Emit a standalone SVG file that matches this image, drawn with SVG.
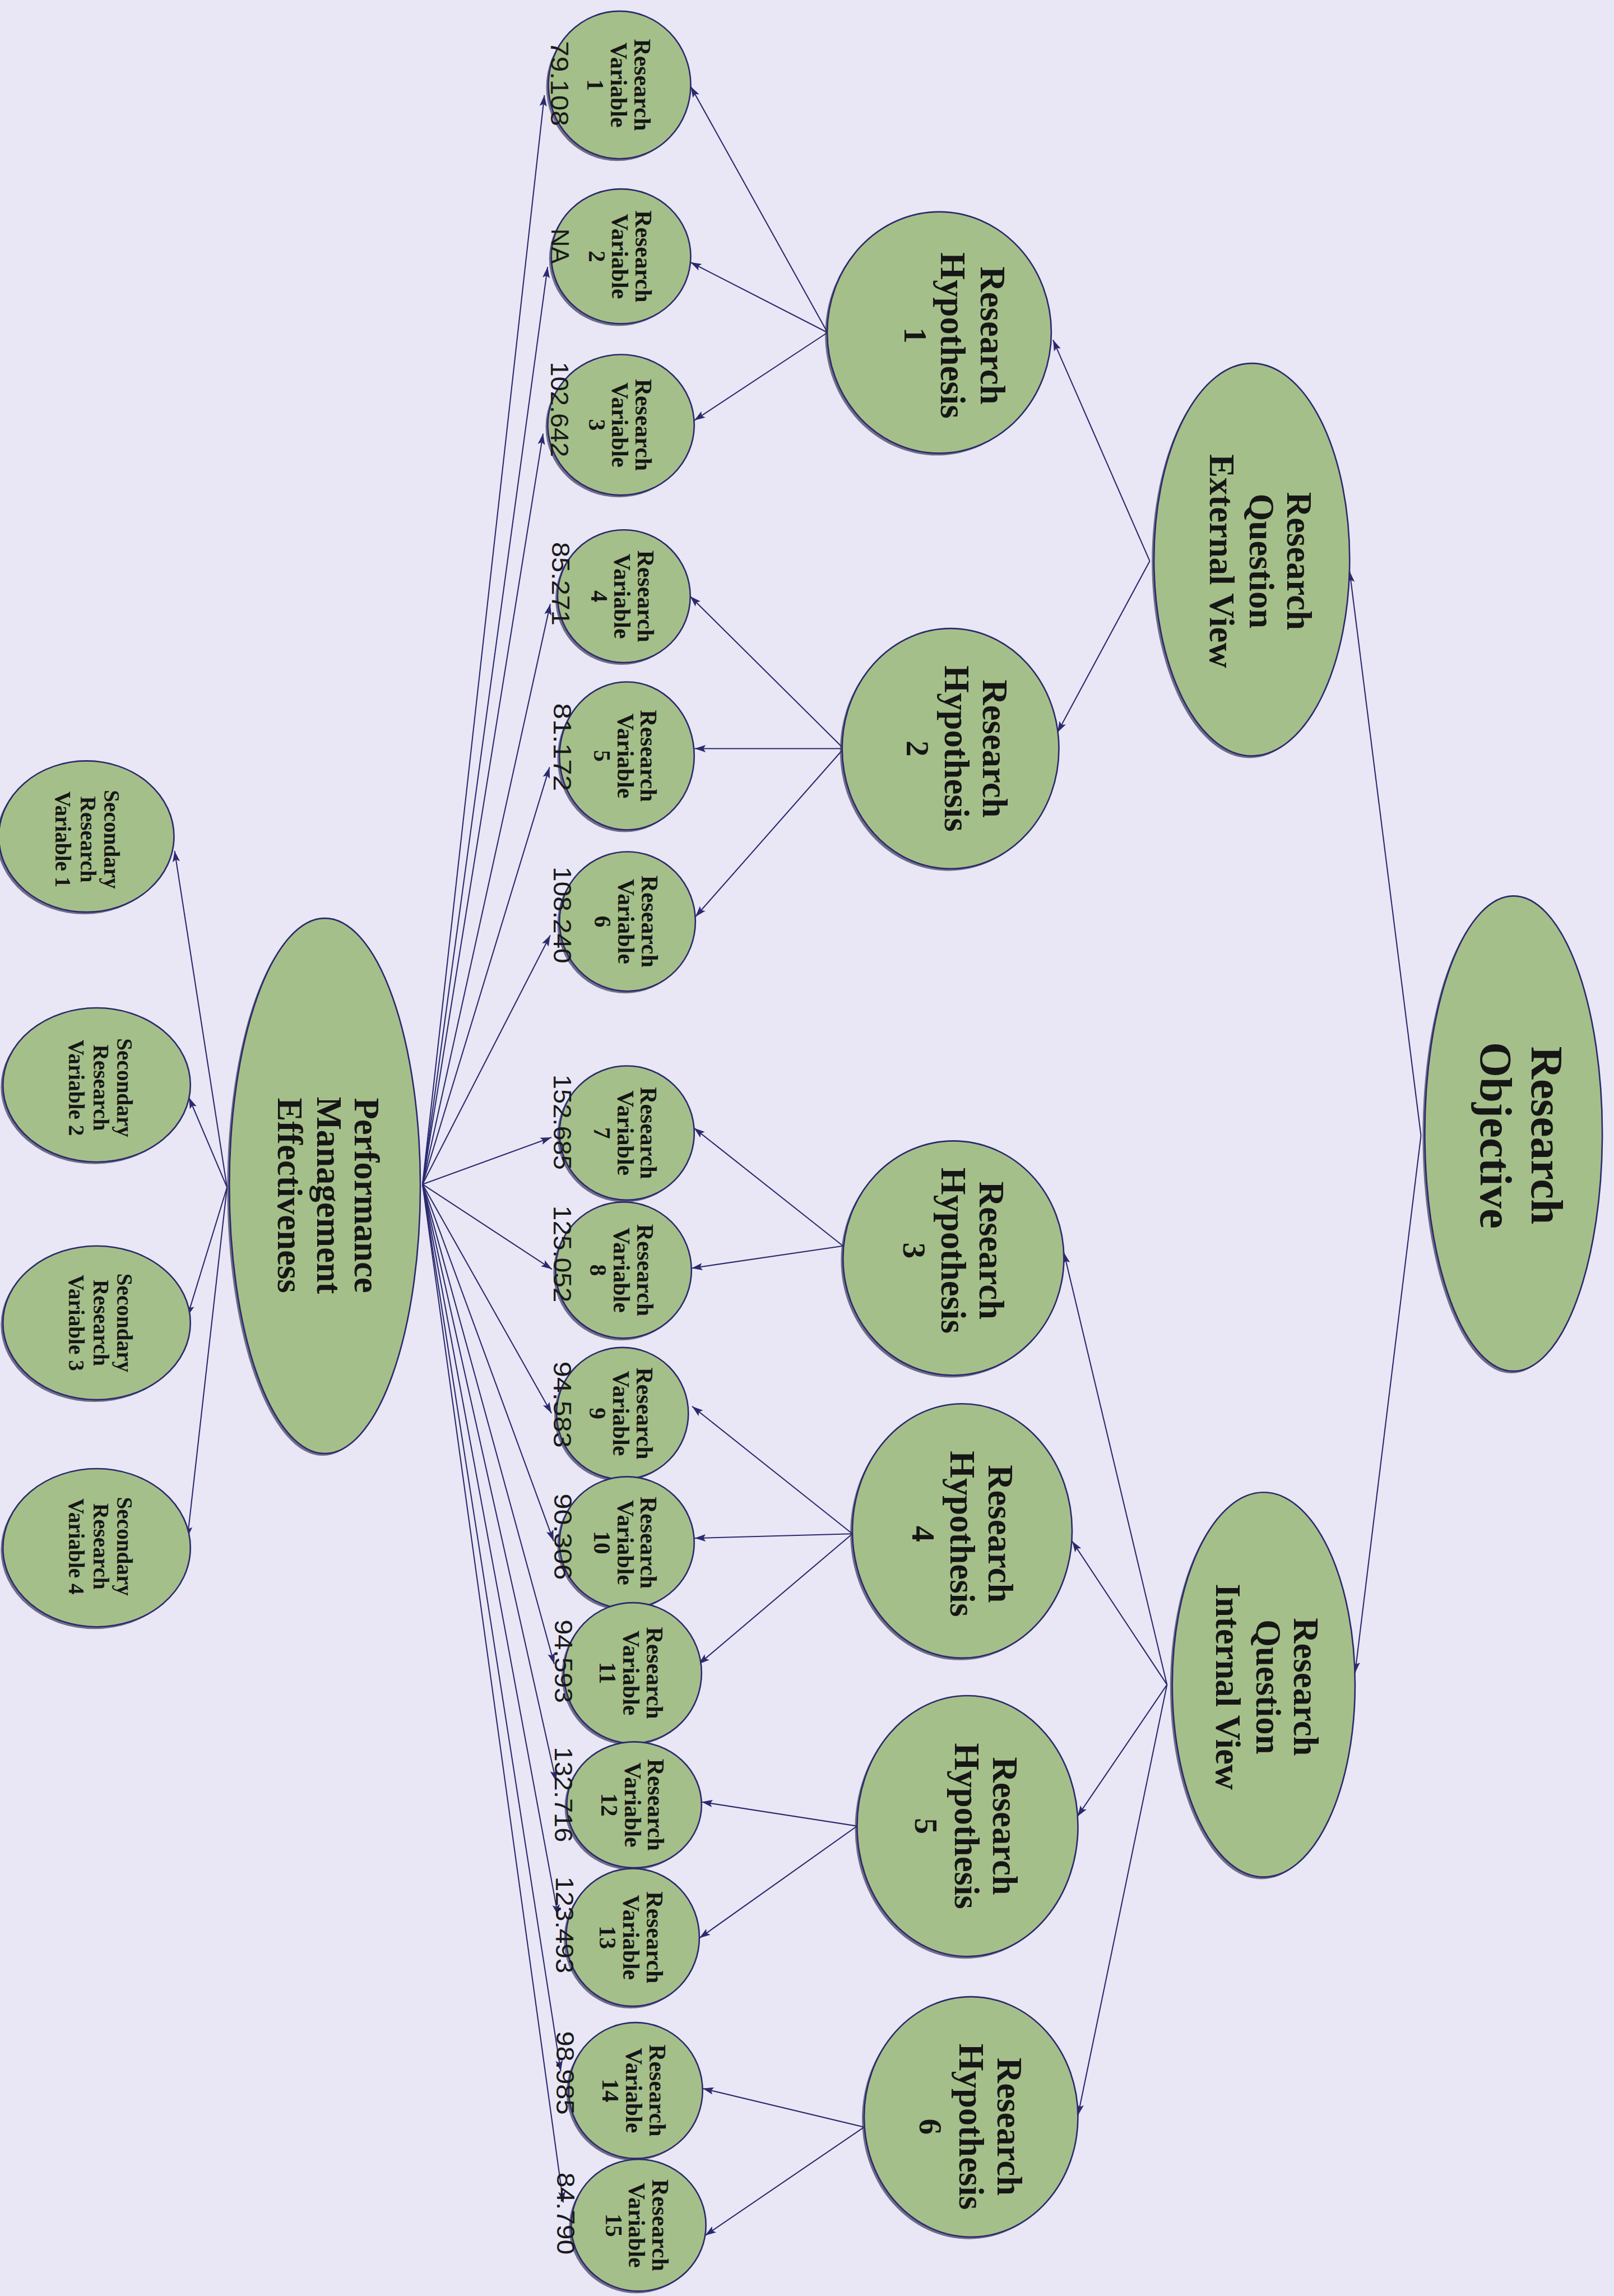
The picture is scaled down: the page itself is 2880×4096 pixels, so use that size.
<svg xmlns="http://www.w3.org/2000/svg" width="2880" height="4096" viewBox="0 0 2880 4096">
<style>
.bg{fill:#e9e7f6}
.sh{fill:#3c3a58;opacity:.7}
.fg{fill:#a5bf8a;stroke:#2b2a6e;stroke-width:1}
.lbl{font-family:'Liberation Serif','Times New Roman',serif;font-weight:bold;fill:#161616;text-anchor:middle}
.num{font-family:'Liberation Sans',Arial,sans-serif;fill:#1a1a1a;text-anchor:middle;font-size:17px}
.conn line{stroke:#2b2a6e;stroke-width:.8;fill:none}
.conn line.a{marker-end:url(#ah)}
</style>
<defs>
<marker id="ah" markerUnits="userSpaceOnUse" markerWidth="9" markerHeight="6" refX="7.5" refY="2.5" orient="auto" overflow="visible">
<path d="M0,0 L7.5,2.5 L0,5 L1.5,2.5 z" fill="#2b2a6e"/>
</marker>
</defs>
<rect class="bg" x="0" y="0" width="2880" height="4096"/>
<g transform="scale(2.61343)">
<g id="connectors" class="conn">
<line class="a" x1="970.2" y1="775.2" x2="921.5" y2="390"/>
<line class="a" x1="970.2" y1="775.2" x2="925.2" y2="1142"/>
<line class="a" x1="785" y1="383" x2="719" y2="232"/>
<line class="a" x1="785" y1="383" x2="722" y2="500"/>
<line class="a" x1="796.8" y1="1150" x2="726.4" y2="855"/>
<line class="a" x1="796.8" y1="1150" x2="732" y2="1052"/>
<line class="a" x1="796.8" y1="1150" x2="735.6" y2="1240"/>
<line class="a" x1="796.8" y1="1150" x2="736" y2="1444"/>
<line class="a" x1="565" y1="227" x2="471.6" y2="59"/>
<line class="a" x1="565" y1="227" x2="471.4" y2="179"/>
<line class="a" x1="565" y1="227" x2="474" y2="287"/>
<line class="a" x1="576" y1="511" x2="471.2" y2="407"/>
<line class="a" x1="576" y1="511" x2="474.3" y2="511"/>
<line class="a" x1="576" y1="511" x2="474.8" y2="625.8"/>
<line class="a" x1="575.6" y1="850.5" x2="473.8" y2="770"/>
<line class="a" x1="575.6" y1="850.5" x2="472.1" y2="865.7"/>
<line class="a" x1="582" y1="1047" x2="472.6" y2="960"/>
<line class="a" x1="582" y1="1047" x2="474.3" y2="1050"/>
<line class="a" x1="582" y1="1047" x2="477" y2="1136"/>
<line class="a" x1="585.2" y1="1246.5" x2="479" y2="1230"/>
<line class="a" x1="585.2" y1="1246.5" x2="477.5" y2="1323"/>
<line class="a" x1="590" y1="1452" x2="479.7" y2="1425.6"/>
<line class="a" x1="590" y1="1452" x2="481.4" y2="1526"/>
<line class="a" x1="288.5" y1="808.4" x2="371.7" y2="65"/>
<line class="a" x1="288.5" y1="808.4" x2="373.9" y2="182.2"/>
<line class="a" x1="288.5" y1="808.4" x2="370.8" y2="296"/>
<line class="a" x1="288.5" y1="808.4" x2="375.7" y2="412.3"/>
<line class="a" x1="288.5" y1="808.4" x2="375.2" y2="523.7"/>
<line class="a" x1="288.5" y1="808.4" x2="375.7" y2="638.4"/>
<line class="a" x1="288.5" y1="808.4" x2="376.5" y2="776.4"/>
<line class="a" x1="288.5" y1="808.4" x2="376.9" y2="866.4"/>
<line class="a" x1="288.5" y1="808.4" x2="376.6" y2="964.7"/>
<line class="a" x1="288.5" y1="808.4" x2="378" y2="1052"/>
<line class="a" x1="288.5" y1="808.4" x2="378.4" y2="1135.9"/>
<line class="a" x1="288.5" y1="808.4" x2="379.7" y2="1216"/>
<line class="a" x1="288.5" y1="808.4" x2="381" y2="1307.6"/>
<line class="a" x1="288.5" y1="808.4" x2="382.9" y2="1414"/>
<line class="a" x1="288.5" y1="808.4" x2="384.6" y2="1503.5"/>
<line class="a" x1="155" y1="810.5" x2="119.2" y2="580.8"/>
<line class="a" x1="155" y1="810.5" x2="129" y2="749.2"/>
<line class="a" x1="155" y1="810.5" x2="128" y2="898.5"/>
<line class="a" x1="155" y1="810.5" x2="128" y2="1049.7"/>
</g>

<g id="research-objective">
<ellipse class="sh" cx="1031.9" cy="775.3" rx="60.6" ry="162.2"/>
<ellipse class="fg" cx="1033.4" cy="773.8" rx="60.6" ry="162.2"/>
<text class="lbl" font-size="31" transform="translate(0,775) rotate(90)"><tspan x="0" y="-1045.6">Research</tspan><tspan x="0" y="-1010.8">Objective</tspan></text>
</g>

<g id="rq-external">
<ellipse class="sh" cx="853.2" cy="383.5" rx="66.8" ry="134"/>
<ellipse class="fg" cx="854.7" cy="382" rx="66.8" ry="134"/>
<text class="lbl" font-size="24" transform="translate(0,383) rotate(90)"><tspan x="0" y="-879">Research</tspan><tspan x="0" y="-853.3">Question</tspan><tspan x="0" y="-826.1">External View</tspan></text>
</g>

<g id="rq-internal">
<ellipse class="sh" cx="861.3" cy="1151.5" rx="62.4" ry="131.3"/>
<ellipse class="fg" cx="862.8" cy="1150" rx="62.4" ry="131.3"/>
<text class="lbl" font-size="24" transform="translate(0,1151.5) rotate(90)"><tspan x="0" y="-883.4">Research</tspan><tspan x="0" y="-857.7">Question</tspan><tspan x="0" y="-830.5">Internal View</tspan></text>
</g>

<g id="rh1">
<ellipse class="sh" cx="639.8" cy="228.5" rx="76.5" ry="82.4"/>
<ellipse class="fg" cx="641.3" cy="227" rx="76.5" ry="82.4"/>
<text class="lbl" font-size="24" transform="translate(0,229) rotate(90)"><tspan x="0" y="-669.5">Research</tspan><tspan x="0" y="-642.4">Hypothesis</tspan><tspan x="0" y="-617.5" font-size="22">1</tspan></text>
</g>
<g id="rh2">
<ellipse class="sh" cx="647.5" cy="512.5" rx="74" ry="82"/>
<ellipse class="fg" cx="649" cy="511" rx="74" ry="82"/>
<text class="lbl" font-size="24" transform="translate(0,511) rotate(90)"><tspan x="0" y="-671">Research</tspan><tspan x="0" y="-645">Hypothesis</tspan><tspan x="0" y="-619" font-size="22">2</tspan></text>
</g>
<g id="rh3">
<ellipse class="sh" cx="649.5" cy="860.3" rx="75.4" ry="80"/>
<ellipse class="fg" cx="651" cy="858.8" rx="75.4" ry="80"/>
<text class="lbl" font-size="24" transform="translate(0,853.6) rotate(90)"><tspan x="0" y="-669">Research</tspan><tspan x="0" y="-643">Hypothesis</tspan><tspan x="0" y="-617" font-size="22">3</tspan></text>
</g>
<g id="rh4">
<ellipse class="sh" cx="655.5" cy="1046.5" rx="75" ry="86.8"/>
<ellipse class="fg" cx="657" cy="1045" rx="75" ry="86.8"/>
<text class="lbl" font-size="24" transform="translate(0,1047) rotate(90)"><tspan x="0" y="-675">Research</tspan><tspan x="0" y="-649">Hypothesis</tspan><tspan x="0" y="-623" font-size="22">4</tspan></text>
</g>
<g id="rh5">
<ellipse class="sh" cx="659.1" cy="1248" rx="75.4" ry="89"/>
<ellipse class="fg" cx="660.6" cy="1246.5" rx="75.4" ry="89"/>
<text class="lbl" font-size="24" transform="translate(0,1246.5) rotate(90)"><tspan x="0" y="-678">Research</tspan><tspan x="0" y="-652">Hypothesis</tspan><tspan x="0" y="-625" font-size="22">5</tspan></text>
</g>
<g id="rh6">
<ellipse class="sh" cx="661.5" cy="1446.5" rx="73" ry="82"/>
<ellipse class="fg" cx="663" cy="1445" rx="73" ry="82"/>
<text class="lbl" font-size="24" transform="translate(0,1451.7) rotate(90)"><tspan x="0" y="-681">Research</tspan><tspan x="0" y="-655">Hypothesis</tspan><tspan x="0" y="-628" font-size="22">6</tspan></text>
</g>

<g id="rv1"><ellipse class="sh" cx="421.5" cy="59.5" rx="48.6" ry="50.4"/><ellipse class="fg" cx="423" cy="58" rx="48.6" ry="50.4"/>
<text class="lbl" font-size="16" transform="translate(0,58) rotate(90)"><tspan x="0" y="-433">Research</tspan><tspan x="0" y="-417">Variable</tspan><tspan x="0" y="-401">1</tspan></text>
<text class="num" textLength="58" lengthAdjust="spacingAndGlyphs" transform="translate(376,57) rotate(90)" x="0" y="0">79.108</text></g>
<g id="rv2"><ellipse class="sh" cx="422.5" cy="176.5" rx="47.6" ry="46"/><ellipse class="fg" cx="424" cy="175" rx="47.6" ry="46"/>
<text class="lbl" font-size="16" transform="translate(0,175) rotate(90)"><tspan x="0" y="-434">Research</tspan><tspan x="0" y="-418">Variable</tspan><tspan x="0" y="-402">2</tspan></text>
<text class="num" textLength="24" lengthAdjust="spacingAndGlyphs" transform="translate(376.5,168) rotate(90)" x="0" y="0">NA</text></g>
<g id="rv3"><ellipse class="sh" cx="422.5" cy="291.5" rx="50" ry="48"/><ellipse class="fg" cx="424" cy="290" rx="50" ry="48"/>
<text class="lbl" font-size="16" transform="translate(0,290) rotate(90)"><tspan x="0" y="-434">Research</tspan><tspan x="0" y="-418">Variable</tspan><tspan x="0" y="-402">3</tspan></text>
<text class="num" textLength="65" lengthAdjust="spacingAndGlyphs" transform="translate(376,279.5) rotate(90)" x="0" y="0">102.642</text></g>
<g id="rv4"><ellipse class="sh" cx="424.5" cy="408.5" rx="45.3" ry="45.3"/><ellipse class="fg" cx="426" cy="407" rx="45.3" ry="45.3"/>
<text class="lbl" font-size="16" transform="translate(0,407) rotate(90)"><tspan x="0" y="-435.5">Research</tspan><tspan x="0" y="-419.5">Variable</tspan><tspan x="0" y="-403.5">4</tspan></text>
<text class="num" textLength="57" lengthAdjust="spacingAndGlyphs" transform="translate(377,398.5) rotate(90)" x="0" y="0">85.271</text></g>
<g id="rv5"><ellipse class="sh" cx="426.5" cy="517.5" rx="46" ry="50.5"/><ellipse class="fg" cx="428" cy="516" rx="46" ry="50.5"/>
<text class="lbl" font-size="16" transform="translate(0,516) rotate(90)"><tspan x="0" y="-437.5">Research</tspan><tspan x="0" y="-421.5">Variable</tspan><tspan x="0" y="-405.5">5</tspan></text>
<text class="num" textLength="60" lengthAdjust="spacingAndGlyphs" transform="translate(378,510) rotate(90)" x="0" y="0">81.172</text></g>
<g id="rv6"><ellipse class="sh" cx="426.9" cy="630.5" rx="46.4" ry="47.6"/><ellipse class="fg" cx="428.4" cy="629" rx="46.4" ry="47.6"/>
<text class="lbl" font-size="16" transform="translate(0,629) rotate(90)"><tspan x="0" y="-438">Research</tspan><tspan x="0" y="-422">Variable</tspan><tspan x="0" y="-406">6</tspan></text>
<text class="num" textLength="66" lengthAdjust="spacingAndGlyphs" transform="translate(378,624.6) rotate(90)" x="0" y="0">108.240</text></g>
<g id="rv7"><ellipse class="sh" cx="426.5" cy="774.9" rx="46" ry="45.8"/><ellipse class="fg" cx="428" cy="773.4" rx="46" ry="45.8"/>
<text class="lbl" font-size="16" transform="translate(0,773.4) rotate(90)"><tspan x="0" y="-437.5">Research</tspan><tspan x="0" y="-421.5">Variable</tspan><tspan x="0" y="-405.5">7</tspan></text>
<text class="num" textLength="65" lengthAdjust="spacingAndGlyphs" transform="translate(378,766) rotate(90)" x="0" y="0">152.685</text></g>
<g id="rv8"><ellipse class="sh" cx="424.2" cy="868.5" rx="46.4" ry="46.5"/><ellipse class="fg" cx="425.7" cy="867" rx="46.4" ry="46.5"/>
<text class="lbl" font-size="16" transform="translate(0,867) rotate(90)"><tspan x="0" y="-435">Research</tspan><tspan x="0" y="-419">Variable</tspan><tspan x="0" y="-403">8</tspan></text>
<text class="num" textLength="66" lengthAdjust="spacingAndGlyphs" transform="translate(378,856) rotate(90)" x="0" y="0">125.052</text></g>
<g id="rv9"><ellipse class="sh" cx="423.5" cy="966.3" rx="45" ry="45"/><ellipse class="fg" cx="425" cy="964.8" rx="45" ry="45"/>
<text class="lbl" font-size="16" transform="translate(0,964.8) rotate(90)"><tspan x="0" y="-434.5">Research</tspan><tspan x="0" y="-418.5">Variable</tspan><tspan x="0" y="-402.5">9</tspan></text>
<text class="num" textLength="59" lengthAdjust="spacingAndGlyphs" transform="translate(378,958.8) rotate(90)" x="0" y="0">94.583</text></g>
<g id="rv10"><ellipse class="sh" cx="426.5" cy="1054.5" rx="46" ry="45"/><ellipse class="fg" cx="428" cy="1053" rx="46" ry="45"/>
<text class="lbl" font-size="16" transform="translate(0,1053) rotate(90)"><tspan x="0" y="-437.5">Research</tspan><tspan x="0" y="-421.5">Variable</tspan><tspan x="0" y="-405.5">10</tspan></text>
<text class="num" textLength="59" lengthAdjust="spacingAndGlyphs" transform="translate(378.5,1049) rotate(90)" x="0" y="0">90.306</text></g>
<g id="rv11"><ellipse class="sh" cx="430.5" cy="1143.5" rx="47" ry="48"/><ellipse class="fg" cx="432" cy="1142" rx="47" ry="48"/>
<text class="lbl" font-size="16" transform="translate(0,1142) rotate(90)"><tspan x="0" y="-441.5">Research</tspan><tspan x="0" y="-425.5">Variable</tspan><tspan x="0" y="-409.5">11</tspan></text>
<text class="num" textLength="57" lengthAdjust="spacingAndGlyphs" transform="translate(379,1134) rotate(90)" x="0" y="0">94.593</text></g>
<g id="rv12"><ellipse class="sh" cx="431.5" cy="1233.5" rx="46" ry="43"/><ellipse class="fg" cx="433" cy="1232" rx="46" ry="43"/>
<text class="lbl" font-size="16" transform="translate(0,1232) rotate(90)"><tspan x="0" y="-442.5">Research</tspan><tspan x="0" y="-426.5">Variable</tspan><tspan x="0" y="-410.5">12</tspan></text>
<text class="num" textLength="65" lengthAdjust="spacingAndGlyphs" transform="translate(379,1225) rotate(90)" x="0" y="0">132.716</text></g>
<g id="rv13"><ellipse class="sh" cx="430.5" cy="1324" rx="45.5" ry="47"/><ellipse class="fg" cx="432" cy="1322.5" rx="45.5" ry="47"/>
<text class="lbl" font-size="16" transform="translate(0,1322.5) rotate(90)"><tspan x="0" y="-441.5">Research</tspan><tspan x="0" y="-425.5">Variable</tspan><tspan x="0" y="-409.5">13</tspan></text>
<text class="num" textLength="66" lengthAdjust="spacingAndGlyphs" transform="translate(379.5,1314) rotate(90)" x="0" y="0">123.493</text></g>
<g id="rv14"><ellipse class="sh" cx="432.5" cy="1428.5" rx="45.7" ry="46.4"/><ellipse class="fg" cx="434" cy="1427" rx="45.7" ry="46.4"/>
<text class="lbl" font-size="16" transform="translate(0,1427) rotate(90)"><tspan x="0" y="-443.5">Research</tspan><tspan x="0" y="-427.5">Variable</tspan><tspan x="0" y="-411.5">14</tspan></text>
<text class="num" textLength="57" lengthAdjust="spacingAndGlyphs" transform="translate(380,1415) rotate(90)" x="0" y="0">98.985</text></g>
<g id="rv15"><ellipse class="sh" cx="434.5" cy="1520.5" rx="46" ry="45"/><ellipse class="fg" cx="436" cy="1519" rx="46" ry="45"/>
<text class="lbl" font-size="16" transform="translate(0,1519) rotate(90)"><tspan x="0" y="-445.5">Research</tspan><tspan x="0" y="-429.5">Variable</tspan><tspan x="0" y="-413.5">15</tspan></text>
<text class="num" textLength="56" lengthAdjust="spacingAndGlyphs" transform="translate(380.5,1511) rotate(90)" x="0" y="0">84.790</text></g>

<g id="pme">
<ellipse class="sh" cx="220.3" cy="811" rx="65.2" ry="182.7"/>
<ellipse class="fg" cx="221.8" cy="809.5" rx="65.2" ry="182.7"/>
<text class="lbl" font-size="24" transform="translate(0,816) rotate(90)"><tspan x="0" y="-242.4">Performance</tspan><tspan x="0" y="-216.4">Management</tspan><tspan x="0" y="-189.8">Effectiveness</tspan></text>
</g>

<g id="srv1"><ellipse class="sh" cx="57.5" cy="572.5" rx="59.8" ry="51.6"/><ellipse class="fg" cx="59" cy="571" rx="59.8" ry="51.6"/>
<text class="lbl" font-size="15" transform="translate(0,573) rotate(90)"><tspan x="0" y="-71">Secondary</tspan><tspan x="0" y="-55">Research</tspan><tspan x="0" y="-38">Variable 1</tspan></text></g>
<g id="srv2"><ellipse class="sh" cx="64.5" cy="742" rx="64" ry="52.6"/><ellipse class="fg" cx="66" cy="740.6" rx="64" ry="52.6"/>
<text class="lbl" font-size="15" transform="translate(0,742.5) rotate(90)"><tspan x="0" y="-80">Secondary</tspan><tspan x="0" y="-64">Research</tspan><tspan x="0" y="-47">Variable 2</tspan></text></g>
<g id="srv3"><ellipse class="sh" cx="64.5" cy="904.5" rx="64" ry="52.5"/><ellipse class="fg" cx="66" cy="903" rx="64" ry="52.5"/>
<text class="lbl" font-size="15" transform="translate(0,903) rotate(90)"><tspan x="0" y="-80">Secondary</tspan><tspan x="0" y="-64">Research</tspan><tspan x="0" y="-47">Variable 3</tspan></text></g>
<g id="srv4"><ellipse class="sh" cx="64.5" cy="1058" rx="64" ry="54"/><ellipse class="fg" cx="66" cy="1056.5" rx="64" ry="54"/>
<text class="lbl" font-size="15" transform="translate(0,1055.6) rotate(90)"><tspan x="0" y="-80">Secondary</tspan><tspan x="0" y="-64">Research</tspan><tspan x="0" y="-47">Variable 4</tspan></text></g>
</g>
</svg>
